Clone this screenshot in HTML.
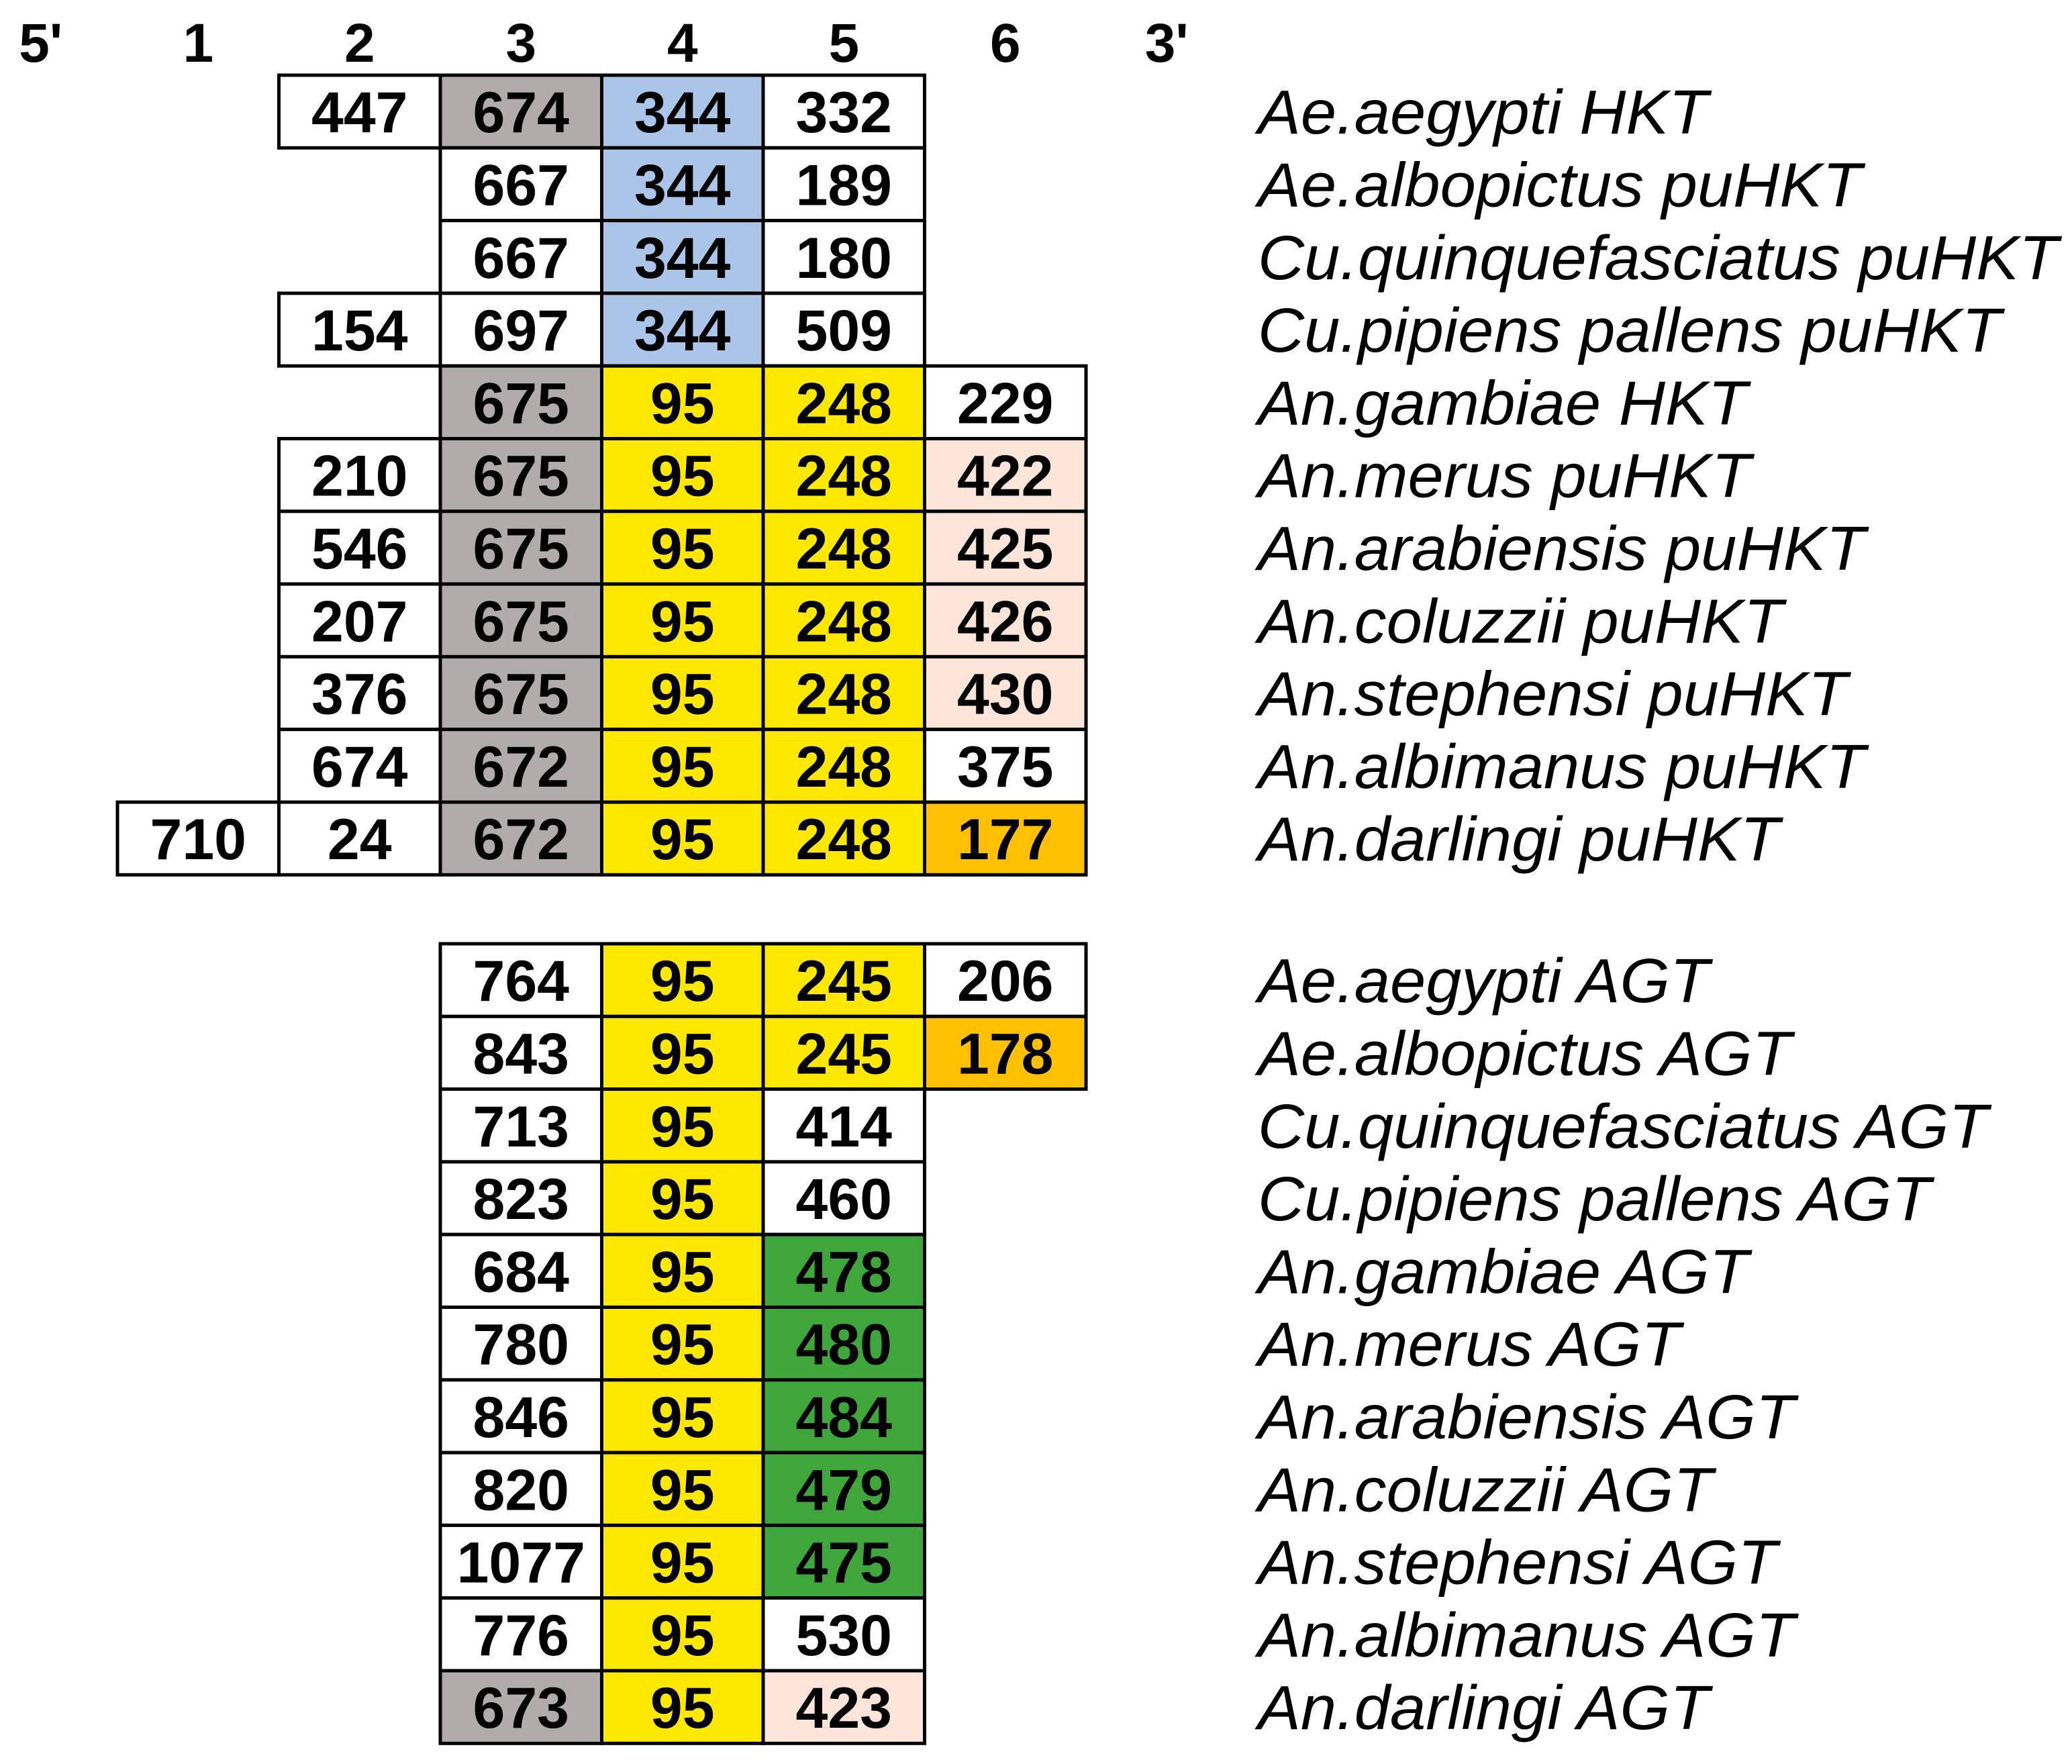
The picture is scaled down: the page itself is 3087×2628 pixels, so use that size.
<!DOCTYPE html>
<html><head><meta charset="utf-8"><style>
html,body{margin:0;padding:0;background:#fff;}
svg{display:block;}
</style></head><body>
<svg id="fig" width="3087" height="2628" viewBox="0 0 3087 2628" xmlns="http://www.w3.org/2000/svg"></svg>
<script>
// Column headers
const headers = ["5'", "1", "2", "3", "4", "5", "6", "3'"];
// HKT table: species, starting exon column, exon lengths, colour codes
const hktSpecies = ["Ae.aegypti HKT","Ae.albopictus puHKT","Cu.quinquefasciatus puHKT","Cu.pipiens pallens puHKT","An.gambiae HKT","An.merus puHKT","An.arabiensis puHKT","An.coluzzii puHKT","An.stephensi puHKT","An.albimanus puHKT","An.darlingi puHKT"];
const hktStart = [2,3,3,2,3,2,2,2,2,2,1];
const hktValues = [[447,674,344,332],[667,344,189],[667,344,180],[154,697,344,509],[675,95,248,229],[210,675,95,248,422],[546,675,95,248,425],[207,675,95,248,426],[376,675,95,248,430],[674,672,95,248,375],[710,24,672,95,248,177]];
const hktColors = ["wgbw","wbw","wbw","wwbw","gyyw","wgyyp","wgyyp","wgyyp","wgyyp","wgyyw","wwgyyo"];
// AGT table
const agtSpecies = ["Ae.aegypti AGT","Ae.albopictus AGT","Cu.quinquefasciatus AGT","Cu.pipiens pallens AGT","An.gambiae AGT","An.merus AGT","An.arabiensis AGT","An.coluzzii AGT","An.stephensi AGT","An.albimanus AGT","An.darlingi AGT"];
const agtStart = [3,3,3,3,3,3,3,3,3,3,3];
const agtValues = [[764,95,245,206],[843,95,245,178],[713,95,414],[823,95,460],[684,95,478],[780,95,480],[846,95,484],[820,95,479],[1077,95,475],[776,95,530],[673,95,423]];
const agtColors = ["wyyw","wyyo","wyw","wyw","wyG","wyG","wyG","wyG","wyG","wyw","gyp"];

const palette = {w:"#ffffff", g:"#b1acab", b:"#aac5e8", y:"#ffe800", p:"#fde4d8", o:"#ffc000", G:"#3ea63a"};
const NS = "http://www.w3.org/2000/svg";
const svg = document.getElementById('fig');
const colW = 240.5, col0 = 175 - colW; // column k left edge = col0 + k*colW
const xCol = k => col0 + k * colW;
const rowH = 108.3;
function mk(tag, attrs){ const e=document.createElementNS(NS,tag); for(const k in attrs) e.setAttribute(k,attrs[k]); return e; }

// headers
headers.forEach((h,i)=>{
  const t = mk('text',{x: xCol(i) + colW/2 + (i===0? 6: 0), y: 92, 'text-anchor':'middle', 'font-family':'Liberation Sans, sans-serif','font-weight':'bold','font-size':82, fill:'#000'});
  
  
  t.textContent = h; svg.appendChild(t);
});

function drawTable(top, species, starts, values, colors, prefix){
  const g = mk('g',{});
  
  
  svg.appendChild(g);
  species.forEach((sp,r)=>{
    const y = top + r*rowH;
    values[r].forEach((v,j)=>{
      const c = starts[r] + j;
      const rect = mk('rect',{x:xCol(c), y:y, width:colW, height:rowH, fill:palette[colors[r][j]], stroke:'#000','stroke-width':5});
      
      
      g.appendChild(rect);
    });
    values[r].forEach((v,j)=>{
      const c = starts[r] + j;
      const t = mk('text',{x:xCol(c)+colW/2, y:y+rowH/2+31, 'text-anchor':'middle','font-family':'Liberation Sans, sans-serif','font-weight':'bold','font-size':86, fill:'#000'});
      
      
      t.textContent = v; g.appendChild(t);
    });
    const lab = mk('text',{transform:'translate(1874,'+(y+rowH/2+33)+') scale(1.03,1)','font-family':'Liberation Sans, sans-serif','font-style':'italic','font-size':93, fill:'#000'});
    
    
    lab.textContent = sp; svg.appendChild(lab);
  });
}
drawTable(112, hktSpecies, hktStart, hktValues, hktColors, 'hkt');
drawTable(1406, agtSpecies, agtStart, agtValues, agtColors, 'agt');
</script>
</body></html>
